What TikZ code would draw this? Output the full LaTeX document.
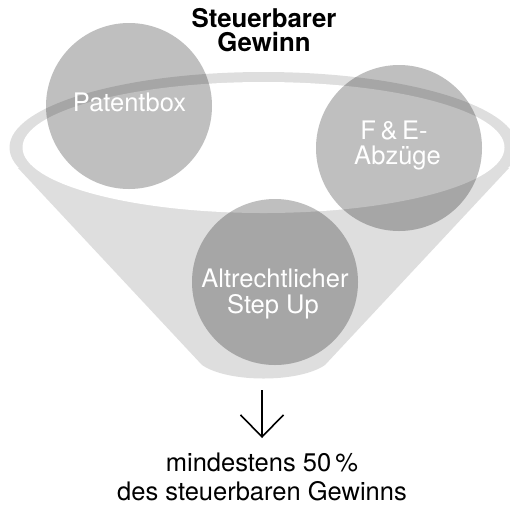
\documentclass[tikz,border=0pt]{standalone}
\usepackage{fontspec}
\setmainfont{TeX Gyre Heros}
\usetikzlibrary{arrows.meta}
\definecolor{funnelgray}{RGB}{222,222,222}
\tikzset{
  bubble/.style={circle, minimum size=166pt, inner sep=0pt, fill=black, fill opacity=0.25, draw=none},
  bubbletext/.style={anchor=base, inner sep=0pt, text=white, font=\fontsize{25.5}{27}\selectfont},
  plain/.style={anchor=base, inner sep=0pt, text=black, font=\fontsize{25.5}{27}\selectfont},
  title/.style={anchor=base, inner sep=0pt, text=black, font=\fontsize{25.8}{27}\selectfont\bfseries},
  arr/.style={line width=1.6pt, -{Straight Barb[length=22pt,width=43pt]}}
}
\begin{document}
\begin{tikzpicture}[x=1pt,y=-1pt]
\useasboundingbox (0,0) rectangle (510,507);
\clip (0,0) rectangle (510,507);
% funnel
\fill[funnelgray] (263.5,147.5) ellipse [x radius=254, y radius=75.5];
\fill[funnelgray] (18,168) -- (202,365) .. controls (228,383) and (299,383) .. (325,365) -- (509,168) -- cycle;
\fill[white] (263.5,147.5) ellipse [x radius=241, y radius=65.5];
% bubbles
\node[bubble] (patent) at (129,106) {};
\node[bubble] (fe) at (399,148) {};
\node[bubble] (stepup) at (275,282) {};
% bubble texts
\node[bubbletext] (patentlbl) at (129.5,111) {Patentbox};
\node[bubbletext] (fe1) at (394,139) {F\hspace{.18em}\&\hspace{.18em}E-};
\node[bubbletext] (fe2) at (397.5,164) {Abzüge};
\node[bubbletext] (su1) at (275,287) {Altrechtlicher};
\node[bubbletext] (su2) at (273,313) {Step Up};
% title
\node[title] (t1) at (264,27) {Steuerbarer};
\node[title] (t2) at (264,51) {Gewinn};
% arrow
\coordinate (arrowtop) at (262,390);
\coordinate (arrowtip) at (262,438);
\draw[arr] (arrowtop) -- (arrowtip);
% result text
\node[plain] (r1) at (262,471.5) {mindestens 50\,\%};
\node[plain] (r2) at (262,500.5) {des steuerbaren Gewinns};
\end{tikzpicture}
\end{document}
